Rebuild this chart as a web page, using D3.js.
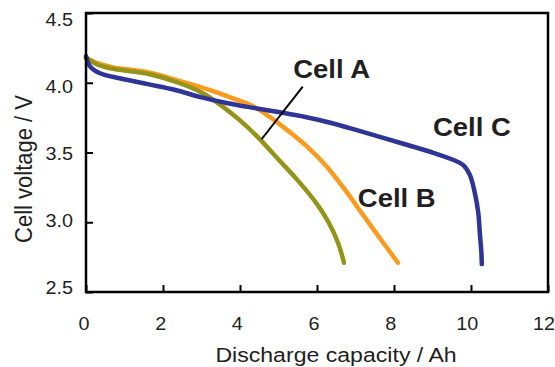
<!DOCTYPE html>
<html>
<head>
<meta charset="utf-8">
<script src="https://cdn.jsdelivr.net/npm/d3@7"></script>
<style>
    body { margin: 0; background: #fff; }
    text { font-family: "Liberation Sans", Arial, sans-serif; fill: #231f20; }
</style>
</head>
<body>
<div class="chart-container"></div>
<script>
// Data
const xTicks = [0, 2, 4, 6, 8, 10, 12];
const yTicks = [2.5, 3.0, 3.5, 4.0, 4.5];

const capA = [0, 0.3, 0.7, 1.6, 2.4, 3.0, 3.5, 4.0, 4.5, 5.0, 5.5, 6.0, 6.3, 6.55, 6.7];
const voltA = [4.18, 4.13, 4.10, 4.065, 4.0, 3.93, 3.84, 3.73, 3.60, 3.45, 3.30, 3.13, 3.00, 2.85, 2.71];

const capB = [0, 0.3, 0.7, 1.6, 2.4, 3.3, 3.8, 4.35, 4.8, 5.25, 5.75, 6.25, 6.75, 7.15, 7.65, 8.1];
const voltB = [4.18, 4.14, 4.11, 4.075, 4.015, 3.94, 3.89, 3.83, 3.75, 3.655, 3.54, 3.40, 3.225, 3.07, 2.88, 2.71];

const capC = [0, 0.1, 0.35, 0.9, 1.6, 2.3, 3.0, 3.65, 4.35, 5.0, 5.7, 6.4, 7.1, 8.15, 9.0, 9.55, 9.8, 9.97, 10.1, 10.19, 10.23, 10.27, 10.28];
const voltC = [4.19, 4.12, 4.07, 4.03, 3.99, 3.95, 3.895, 3.855, 3.82, 3.79, 3.755, 3.71, 3.655, 3.57, 3.50, 3.446, 3.41, 3.34, 3.21, 3.065, 2.92, 2.78, 2.70];

const cellNames = ['Cell B', 'Cell A', 'Cell C'];
const cellColors = ['#fb9a1c', '#94941a', '#2e3597'];

// label anchors (capacity, voltage at baseline)
const labelCap = [7.06, 5.38, 9.01];
const labelVolt = [3.107, 4.036, 3.618];

// leader line for Cell A
const leaderCap = [5.63, 4.56];
const leaderVolt = [3.972, 3.595];

// Set up margins
const margin = { top: 13, right: 7, bottom: 75, left: 86 };
const svgWidth = 555;
const svgHeight = 367;
const width = svgWidth - margin.left - margin.right;
const height = svgHeight - margin.top - margin.bottom;

// Scales
const xScale = d3.scaleLinear().domain([0, 12]).range([0, width]);
const yScale = d3.scaleLinear().domain([2.5, 4.5]).range([height, 0]);
// tick labels sit slightly off the tick marks in the original
const xLabelScale = d3.scaleLinear().domain([0, 12]).range([-2, width - 4]);
const yLabelScale = d3.scaleLinear().domain([2.5, 4.5]).range([height - 4.5, 6]);

const svg = d3.select('.chart-container')
    .append('svg')
    .attr('width', svgWidth)
    .attr('height', svgHeight)
    .append('g')
    .attr('transform', 'translate(' + margin.left + ',' + margin.top + ')');

// Series
const series = [
    capB.map((c, i) => ({ cap: c, volt: voltB[i] })),
    capA.map((c, i) => ({ cap: c, volt: voltA[i] })),
    capC.map((c, i) => ({ cap: c, volt: voltC[i] }))
];

const line = d3.line()
    .x(d => xScale(d.cap))
    .y(d => yScale(d.volt))
    .curve(d3.curveCatmullRom.alpha(0.5));

svg.selectAll('.cell')
    .data(series)
    .enter()
    .append('path')
    .attr('class', 'cell')
    .attr('d', line)
    .style('fill', 'none')
    .style('stroke', (d, i) => cellColors[i])
    .style('stroke-width', 4.5)
    .style('stroke-linejoin', 'round')
    .style('stroke-linecap', 'round');

// Axes (inward ticks, no labels)
const xAxis = d3.axisBottom(xScale).tickValues(xTicks).tickSize(-7).tickFormat('');
const yAxis = d3.axisLeft(yScale).tickValues(yTicks).tickSize(-7).tickFormat('');

const xAxisDraw = svg.append('g').attr('transform', 'translate(0,' + height + ')');
xAxis(xAxisDraw);
const yAxisDraw = svg.append('g');
yAxis(yAxisDraw);

svg.selectAll('.domain').remove();
svg.selectAll('.tick line').style('stroke', '#000').style('stroke-width', 2);

// Frame
svg.append('rect')
    .attr('width', width)
    .attr('height', height)
    .style('fill', 'none')
    .style('stroke', '#000')
    .style('stroke-width', 2.5);

// Tick labels
svg.selectAll('.xlab')
    .data(xTicks)
    .enter()
    .append('text')
    .attr('class', 'xlab')
    .attr('transform', d => 'translate(' + xLabelScale(d) + ',' + (height + 38) + ') scale(1.1,1)')
    .style('text-anchor', 'middle')
    .style('font-size', '18px')
    .text(d => d);

svg.selectAll('.ylab')
    .data(yTicks)
    .enter()
    .append('text')
    .attr('class', 'ylab')
    .attr('transform', d => 'translate(-13,' + (yLabelScale(d) + 6.5) + ') scale(1.1,1)')
    .style('text-anchor', 'end')
    .style('font-size', '18px')
    .text(d => d3.format('.1f')(d));

// Axis titles
svg.append('text')
    .attr('transform', 'translate(250,' + (height + 70) + ') scale(1.1,1)')
    .style('text-anchor', 'middle')
    .style('font-size', '21px')
    .text('Discharge capacity / Ah');

svg.append('text')
    .attr('transform', 'translate(' + (31.7 - margin.left) + ',' + (169 - margin.top) + ') rotate(-90) scale(1,1.1)')
    .style('text-anchor', 'middle')
    .style('font-size', '22px')
    .text('Cell voltage / V');

// Leader line and series labels
svg.append('line')
    .attr('x1', xScale(leaderCap[0]))
    .attr('y1', yScale(leaderVolt[0]))
    .attr('x2', xScale(leaderCap[1]))
    .attr('y2', yScale(leaderVolt[1]))
    .style('stroke', '#000')
    .style('stroke-width', 2);

svg.selectAll('.cell-label')
    .data(cellNames)
    .enter()
    .append('text')
    .attr('class', 'cell-label')
    .attr('transform', (d, i) => 'translate(' + xScale(labelCap[i]) + ',' + yScale(labelVolt[i]) + ') scale(1.1,1)')
    .style('font-size', '25px')
    .style('font-weight', 'bold')
    .text(d => d);
</script>
</body>
</html>
